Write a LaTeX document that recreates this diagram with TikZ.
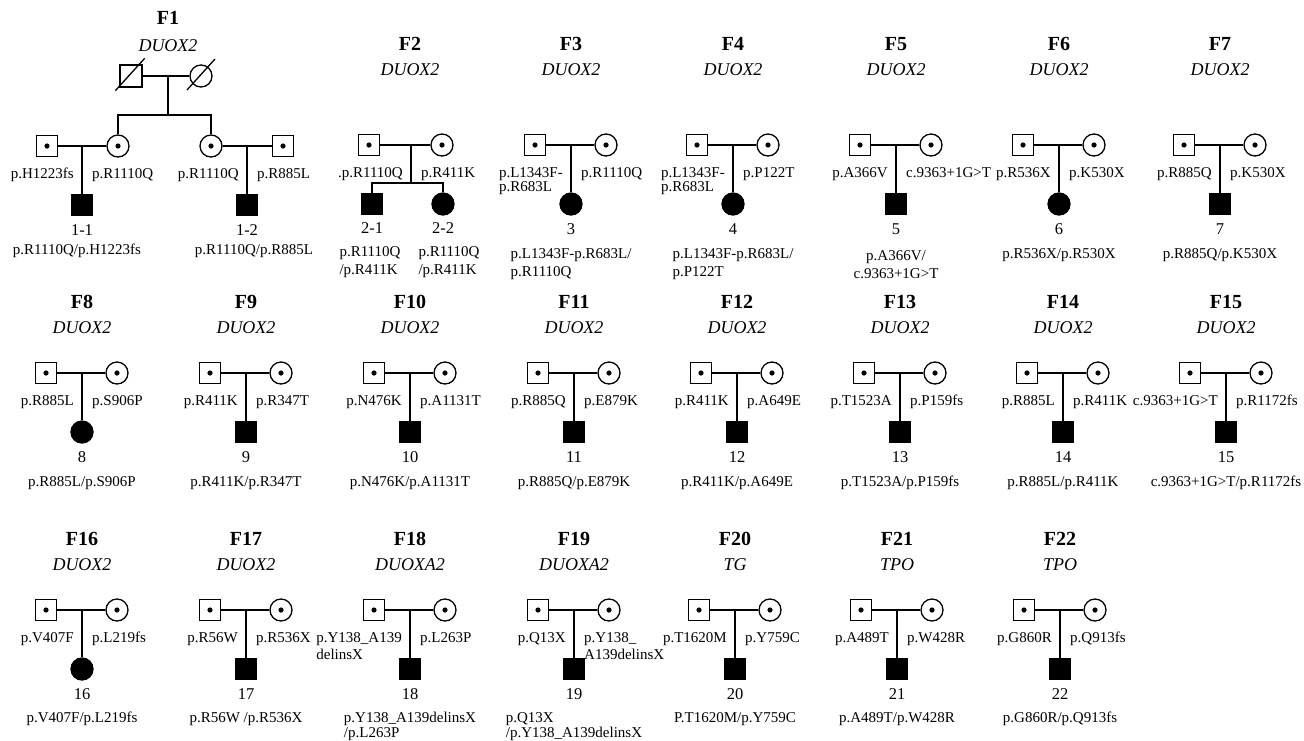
\documentclass[tikz,border=0pt]{standalone}
\usepackage{fontspec}
\setmainfont{Liberation Serif}
\usepackage{tikz}
\usetikzlibrary{positioning}
\tikzset{
  carrierm/.style={rectangle,draw,line width=1.3pt,minimum size=21pt,inner sep=0pt,fill=white,
    path picture={\fill[black] (path picture bounding box.center) circle (2.6pt);}},
  carrierf/.style={circle,draw,line width=1.3pt,minimum size=22pt,inner sep=0pt,fill=white,
    path picture={\fill[black] (path picture bounding box.center) circle (2.6pt);}},
  deadm/.style={rectangle,draw,line width=1.3pt,minimum size=22pt,inner sep=0pt},
  deadf/.style={circle,draw,line width=1.3pt,minimum size=22pt,inner sep=0pt},
  affm/.style={rectangle,draw,fill=black,line width=1.3pt,minimum size=20pt,inner sep=0pt},
  afff/.style={circle,draw,fill=black,line width=1.3pt,minimum size=22pt,inner sep=0pt},
  ped/.style={line width=1.3pt},
  famtitle/.style={inner sep=0pt,font=\fontsize{20}{24}\selectfont\bfseries},
  famgene/.style={inner sep=0pt,font=\fontsize{18}{22}\selectfont\itshape},
  varl/.style={anchor=north east,align=left,inner sep=0pt,font=\fontsize{15}{18}\selectfont},
  varr/.style={anchor=north west,align=left,inner sep=0pt,font=\fontsize{15}{18}\selectfont},
  varb/.style={anchor=north,align=left,inner sep=0pt,font=\fontsize{15}{18}\selectfont},
  kidno/.style={inner sep=0pt,font=\fontsize{16.5}{20}\selectfont},
}
\newcommand{\famtoff}{101}
\newcommand{\famgoff}{75}
\newcommand{\famboff}{103}
% one couple with one affected child
\newcommand{\pedtrio}[9]{%
  \node[famtitle] (f#1t) at (#2,#3-\famtoff) {F#1};
  \node[famgene] (f#1g) at (#2,#3-\famgoff) {#4};
  \node[carrierm] (f#1m) at (#2-36,#3) {};
  \node[carrierf] (f#1w) at (#2+35,#3) {};
  \coordinate (f#1d) at (#2,#3);
  \node[#7] (f#1k) at (#2,#3+59) {};
  \draw[ped] (f#1m) -- (f#1w);
  \draw[ped] (f#1d) -- (f#1k);
  \node[varl] (f#1a) at (#2-8,#3+22) {#5};
  \node[varr] (f#1b) at (#2+10,#3+22) {#6};
  \node[kidno] (f#1n) at (#2,#3+84) {#8};
  \node[varb] (f#1v) at (#2,#3+\famboff) {#9};
}
\begin{document}
\begin{tikzpicture}[x=1pt,y=-1pt]
  \useasboundingbox (0,0) rectangle (1304,740);
  % F1
  \node[famtitle] (f1t) at (168,18) {F1};
  \node[famgene] (f1g) at (168,46) {DUOX2};
  \node[deadm] (f1gf) at (131,76) {};
  \node[deadf] (f1gm) at (201,76) {};
  \draw[ped] ([shift={(-4pt,-3pt)}]f1gf.south west) -- ([shift={(2pt,6pt)}]f1gf.north east);
  \draw[ped] ([shift={(-14pt,-14pt)}]f1gm.center) -- ([shift={(14pt,17pt)}]f1gm.center);
  \draw[ped] (f1gf) -- (f1gm);
  \coordinate (f1d) at (168,76);
  \coordinate (f1s) at (168,115);
  \node[carrierm] (f1h1) at (47,146) {};
  \node[carrierf] (f1w1) at (118,146) {};
  \node[carrierf] (f1w2) at (211,146) {};
  \node[carrierm] (f1h2) at (283,146) {};
  \draw[ped] (f1d) -- (f1s);
  \draw[ped] (f1w1) |- (f1s) -| (f1w2);
  \draw[ped] (f1h1) -- (f1w1);
  \draw[ped] (f1w2) -- (f1h2);
  \coordinate (f1d1) at (82,146);
  \coordinate (f1d2) at (247,146);
  \node[affm] (f1k1) at (82,205) {};
  \node[affm] (f1k2) at (247,205) {};
  \draw[ped] (f1d1) -- (f1k1);
  \draw[ped] (f1d2) -- (f1k2);
  \node[varl] (f1a1) at (74,168) {p.H1223fs};
  \node[varr] (f1b1) at (92,168) {p.R1110Q};
  \node[varl] (f1a2) at (239,168) {p.R1110Q};
  \node[varr] (f1b2) at (257,168) {p.R885L};
  \node[kidno] (f1n1) at (82,230) {1-1};
  \node[kidno] (f1n2) at (247,230) {1-2};
  \node[varb] (f1v1) at (77,244) {p.R1110Q/p.H1223fs};
  \node[varb] (f1v2) at (254,244) {p.R1110Q/p.R885L};
  % F2
  \node[famtitle] (f2t) at (410,44) {F2};
  \node[famgene] (f2g) at (410,70) {DUOX2};
  \node[carrierm] (f2m) at (369,145) {};
  \node[carrierf] (f2w) at (442,145) {};
  \coordinate (f2d) at (411,145);
  \coordinate (f2s) at (411,183);
  \node[affm] (f2k1) at (372,204) {};
  \node[afff] (f2k2) at (443,204) {};
  \draw[ped] (f2m) -- (f2w);
  \draw[ped] (f2d) -- (f2s);
  \draw[ped] (f2k1) |- (f2s) -| (f2k2);
  \node[varl] (f2a) at (403,167) {.p.R1110Q};
  \node[varr] (f2b) at (421,167) {p.R411K};
  \node[kidno] (f2n1) at (372,228) {2-1};
  \node[kidno] (f2n2) at (443,228) {2-2};
  \node[varb] (f2v1) at (370,246) {p.R1110Q\\/p.R411K};
  \node[varb] (f2v2) at (449,246) {p.R1110Q\\/p.R411K};
  % F3 - F7
  \pedtrio{3}{571}{145}{DUOX2}{p.L1343F-\\[-4pt]p.R683L}{p.R1110Q}{afff}{3}{p.L1343F-p.R683L/\\p.R1110Q}
  \pedtrio{4}{733}{145}{DUOX2}{p.L1343F-\\[-4pt]p.R683L}{p.P122T}{afff}{4}{p.L1343F-p.R683L/\\p.P122T}
  \pedtrio{5}{896}{145}{DUOX2}{p.A366V}{c.9363+1G>T}{affm}{5}{\begin{tabular}{@{}c@{}}p.A366V/\\c.9363+1G>T\end{tabular}}
  \pedtrio{6}{1059}{145}{DUOX2}{p.R536X}{p.K530X}{afff}{6}{p.R536X/p.R530X}
  \pedtrio{7}{1220}{145}{DUOX2}{p.R885Q}{p.K530X}{affm}{7}{p.R885Q/p.K530X}
  % F8 - F15
  \renewcommand{\famtoff}{71}
  \renewcommand{\famgoff}{45}
  \pedtrio{8}{82}{373}{DUOX2}{p.R885L}{p.S906P}{afff}{8}{p.R885L/p.S906P}
  \pedtrio{9}{246}{373}{DUOX2}{p.R411K}{p.R347T}{affm}{9}{p.R411K/p.R347T}
  \pedtrio{10}{410}{373}{DUOX2}{p.N476K}{p.A1131T}{affm}{10}{p.N476K/p.A1131T}
  \pedtrio{11}{574}{373}{DUOX2}{p.R885Q}{p.E879K}{affm}{11}{p.R885Q/p.E879K}
  \pedtrio{12}{737}{373}{DUOX2}{p.R411K}{p.A649E}{affm}{12}{p.R411K/p.A649E}
  \pedtrio{13}{900}{373}{DUOX2}{p.T1523A}{p.P159fs}{affm}{13}{p.T1523A/p.P159fs}
  \pedtrio{14}{1063}{373}{DUOX2}{p.R885L}{p.R411K}{affm}{14}{p.R885L/p.R411K}
  \pedtrio{15}{1226}{373}{DUOX2}{c.9363+1G>T}{p.R1172fs}{affm}{15}{c.9363+1G>T/p.R1172fs}
  % F16 - F22
  \renewcommand{\famboff}{102}
  \pedtrio{16}{82}{610}{DUOX2}{p.V407F}{p.L219fs}{afff}{16}{p.V407F/p.L219fs}
  \pedtrio{17}{246}{610}{DUOX2}{p.R56W}{p.R536X}{affm}{17}{p.R56W /p.R536X}
  \pedtrio{18}{410}{610}{DUOXA2}{p.Y138\_A139\\[-1pt]delinsX}{p.L263P}{affm}{18}{p.Y138\_A139delinsX\\[-3pt]/p.L263P}
  \pedtrio{19}{574}{610}{DUOXA2}{p.Q13X}{p.Y138\_\\[-1pt]A139delinsX}{affm}{19}{p.Q13X\\[-3pt]/p.Y138\_A139delinsX}
  \pedtrio{20}{735}{610}{TG}{p.T1620M}{p.Y759C}{affm}{20}{P.T1620M/p.Y759C}
  \pedtrio{21}{897}{610}{TPO}{p.A489T}{p.W428R}{affm}{21}{p.A489T/p.W428R}
  \pedtrio{22}{1060}{610}{TPO}{p.G860R}{p.Q913fs}{affm}{22}{p.G860R/p.Q913fs}
\end{tikzpicture}
\end{document}
